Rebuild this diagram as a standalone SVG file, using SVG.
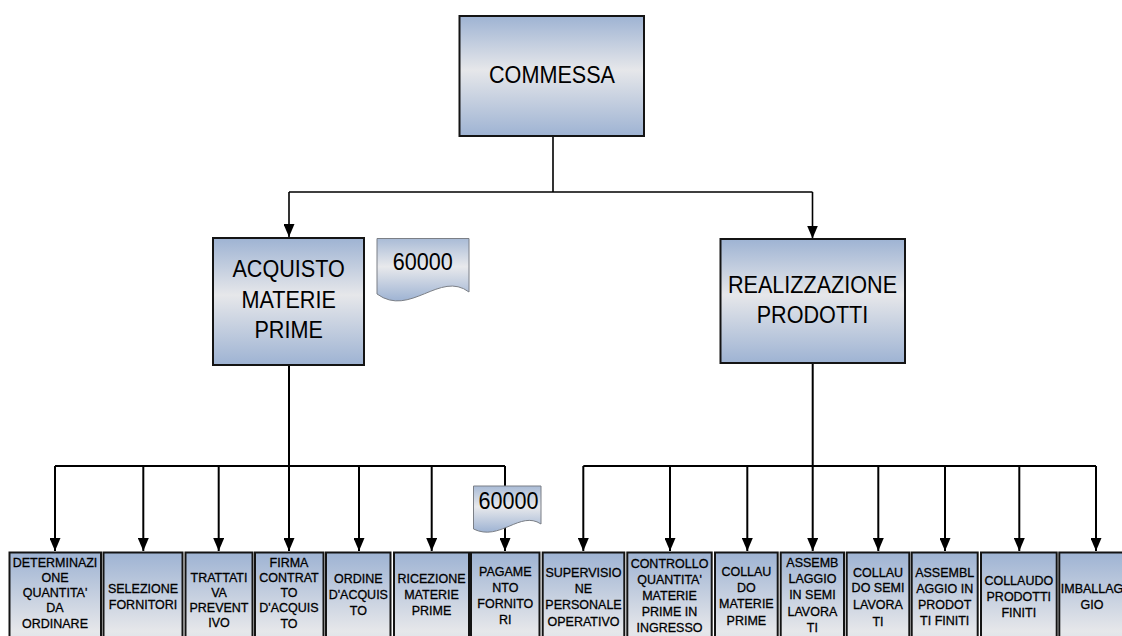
<svg xmlns="http://www.w3.org/2000/svg" width="1122" height="636" viewBox="0 0 1122 636">
  <defs>
    <linearGradient id="boxFill" x1="0" y1="0" x2="0" y2="1">
      <stop offset="0" stop-color="#9eb3d3"/>
      <stop offset="0.45" stop-color="#e6e7ea"/>
      <stop offset="1" stop-color="#9eb3d3"/>
    </linearGradient>
    <linearGradient id="docFill" x1="0" y1="0" x2="0" y2="1">
      <stop offset="0" stop-color="#a9bbd6"/>
      <stop offset="0.45" stop-color="#e8e9ec"/>
      <stop offset="1" stop-color="#9eb3d3"/>
    </linearGradient>
    <marker id="arrow" markerUnits="userSpaceOnUse" markerWidth="13" markerHeight="11" refX="13" refY="5.5" orient="auto">
      <path d="M0,0 L13,5.5 L0,11 Z" fill="#000"/>
    </marker>
    <style>
      .box { fill: url(#boxFill); stroke: #141414; stroke-width: 2; }
      .doc { fill: url(#docFill); stroke: #7b7f86; stroke-width: 1; }
      .wire { fill: none; stroke: #000; stroke-width: 1.6; }
      .wire2 { fill: none; stroke: #000; stroke-width: 2; }
      .arrow { marker-end: url(#arrow); }
      text { font-family: "Liberation Sans", Arial, sans-serif; fill: #000; text-anchor: middle; }
      .big { font-size: 23.5px; }
      .task { font-size: 13.6px; stroke: #000; stroke-width: 0.3; }
    </style>
  </defs>

  <!-- connectors -->
  <g id="connectors">
    <path class="wire" d="M553,136 V192 M289,192 H812.5"/>
    <path class="wire arrow" d="M289,192 V237"/>
    <path class="wire arrow" d="M812.5,192 V238.5"/>

    <!-- purchasing branch -->
    <path class="wire2" d="M289,365 V466 M55,466 H505"/>
    <path class="wire2 arrow" d="M55,466 V551"/>
    <path class="wire2 arrow" d="M143.3,466 V551"/>
    <path class="wire2 arrow" d="M218.7,466 V551"/>
    <path class="wire2 arrow" d="M289,466 V551"/>
    <path class="wire2 arrow" d="M359,466 V551"/>
    <path class="wire2 arrow" d="M431.7,466 V551"/>
    <path class="wire2" d="M505,466 V486"/>
    <path class="wire2 arrow" d="M505,527 V551"/>

    <!-- production branch -->
    <path class="wire2" d="M812.7,363 V466 M583.3,466 H1096"/>
    <path class="wire2 arrow" d="M583.3,466 V551"/>
    <path class="wire2 arrow" d="M670,466 V551"/>
    <path class="wire2 arrow" d="M747.3,466 V551"/>
    <path class="wire2 arrow" d="M812.7,466 V551"/>
    <path class="wire2 arrow" d="M878.3,466 V551"/>
    <path class="wire2 arrow" d="M945,466 V551"/>
    <path class="wire2 arrow" d="M1019.3,466 V551"/>
    <path class="wire2 arrow" d="M1096,466 V551"/>
  </g>

  <!-- top level -->
  <g id="commessa">
    <rect class="box" x="459.5" y="16" width="184.5" height="120"/>
    <text class="big" transform="translate(552 0) scale(0.92 1)" x="0" y="83">COMMESSA</text>
  </g>

  <g id="acquisto-materie-prime">
    <rect class="box" x="213" y="238" width="151" height="127"/>
    <text class="big" transform="translate(288.6 0) scale(0.92 1)"><tspan x="0" y="277">ACQUISTO</tspan><tspan x="0" y="308">MATERIE</tspan><tspan x="0" y="338">PRIME</tspan></text>
  </g>

  <g id="budget-acquisto">
    <path class="doc" d="M377,238.5 H469 V292 C440,270 410,318 377,294 Z"/>
    <text class="big" transform="translate(422.8 0) scale(0.92 1)" x="0" y="270">60000</text>
  </g>

  <g id="realizzazione-prodotti">
    <rect class="box" x="720.5" y="239" width="184.5" height="124"/>
    <text class="big" transform="translate(812.5 0) scale(0.92 1)"><tspan x="0" y="293">REALIZZAZIONE</tspan><tspan x="0" y="323">PRODOTTI</tspan></text>
  </g>

  <g id="budget-pagamento">
    <path class="doc" d="M473.5,486 H541 V524 C520,510 500,542 473.5,529 Z"/>
    <text class="big" transform="translate(508.5 0) scale(0.92 1)" x="0" y="509">60000</text>
  </g>

  <!-- purchasing activities -->
  <g id="determinazione-quantita">
    <rect class="box" x="9.5" y="552.5" width="91.5" height="175"/>
    <text class="task" transform="translate(55 0) scale(0.92 1)"><tspan x="0" y="567.3">DETERMINAZI</tspan><tspan x="0" y="582.3">ONE</tspan><tspan x="0" y="597.3">QUANTITA'</tspan><tspan x="0" y="612.3">DA</tspan><tspan x="0" y="628">ORDINARE</tspan></text>
  </g>
  <g id="selezione-fornitori">
    <rect class="box" x="103.5" y="552.5" width="79" height="175"/>
    <text class="task" transform="translate(143 0) scale(0.92 1)"><tspan x="0" y="593">SELEZIONE</tspan><tspan x="0" y="608.7">FORNITORI</tspan></text>
  </g>
  <g id="trattativa-preventivo">
    <rect class="box" x="185.5" y="552.5" width="67" height="175"/>
    <text class="task" transform="translate(219 0) scale(0.92 1)"><tspan x="0" y="582">TRATTATI</tspan><tspan x="0" y="597">VA</tspan><tspan x="0" y="612.5">PREVENT</tspan><tspan x="0" y="627.5">IVO</tspan></text>
  </g>
  <g id="firma-contratto">
    <rect class="box" x="255" y="552.5" width="68.5" height="175"/>
    <text class="task" transform="translate(289 0) scale(0.92 1)"><tspan x="0" y="567.3">FIRMA</tspan><tspan x="0" y="582">CONTRAT</tspan><tspan x="0" y="597">TO</tspan><tspan x="0" y="612.3">D'ACQUIS</tspan><tspan x="0" y="628">TO</tspan></text>
  </g>
  <g id="ordine-acquisto">
    <rect class="box" x="326" y="552.5" width="64.5" height="175"/>
    <text class="task" transform="translate(358.3 0) scale(0.92 1)"><tspan x="0" y="583.3">ORDINE</tspan><tspan x="0" y="599">D'ACQUIS</tspan><tspan x="0" y="615">TO</tspan></text>
  </g>
  <g id="ricezione-materie">
    <rect class="box" x="394" y="552.5" width="75" height="175"/>
    <text class="task" transform="translate(431.5 0) scale(0.92 1)"><tspan x="0" y="583.3">RICEZIONE</tspan><tspan x="0" y="599">MATERIE</tspan><tspan x="0" y="615">PRIME</tspan></text>
  </g>
  <g id="pagamento-fornitori">
    <rect class="box" x="471" y="552.5" width="68.5" height="175"/>
    <text class="task" transform="translate(505.3 0) scale(0.92 1)"><tspan x="0" y="576.5">PAGAME</tspan><tspan x="0" y="592">NTO</tspan><tspan x="0" y="608.3">FORNITO</tspan><tspan x="0" y="624.3">RI</tspan></text>
  </g>

  <!-- production activities -->
  <g id="supervisione-personale">
    <rect class="box" x="542.7" y="552.5" width="81.6" height="175"/>
    <text class="task" transform="translate(583.5 0) scale(0.92 1)"><tspan x="0" y="576.7">SUPERVISIO</tspan><tspan x="0" y="592.7">NE</tspan><tspan x="0" y="609.3">PERSONALE</tspan><tspan x="0" y="626">OPERATIVO</tspan></text>
  </g>
  <g id="controllo-quantita">
    <rect class="box" x="627.3" y="552.5" width="84.4" height="175"/>
    <text class="task" transform="translate(669.5 0) scale(0.92 1)"><tspan x="0" y="568.3">CONTROLLO</tspan><tspan x="0" y="584">QUANTITA'</tspan><tspan x="0" y="600">MATERIE</tspan><tspan x="0" y="616.5">PRIME IN</tspan><tspan x="0" y="632.5">INGRESSO</tspan></text>
  </g>
  <g id="collaudo-materie">
    <rect class="box" x="715" y="552.5" width="62.7" height="175"/>
    <text class="task" transform="translate(746.4 0) scale(0.92 1)"><tspan x="0" y="576">COLLAU</tspan><tspan x="0" y="592">DO</tspan><tspan x="0" y="608.3">MATERIE</tspan><tspan x="0" y="624.7">PRIME</tspan></text>
  </g>
  <g id="assemblaggio-semilavorati">
    <rect class="box" x="780.7" y="552.5" width="63.3" height="175"/>
    <text class="task" transform="translate(812.4 0) scale(0.92 1)"><tspan x="0" y="567.3">ASSEMB</tspan><tspan x="0" y="583">LAGGIO</tspan><tspan x="0" y="599.5">IN SEMI</tspan><tspan x="0" y="615.7">LAVORA</tspan><tspan x="0" y="632">TI</tspan></text>
  </g>
  <g id="collaudo-semilavorati">
    <rect class="box" x="846.7" y="552.5" width="62.6" height="175"/>
    <text class="task" transform="translate(878 0) scale(0.92 1)"><tspan x="0" y="577">COLLAU</tspan><tspan x="0" y="592.5">DO SEMI</tspan><tspan x="0" y="609.3">LAVORA</tspan><tspan x="0" y="626.5">TI</tspan></text>
  </g>
  <g id="assemblaggio-prodotti">
    <rect class="box" x="911.7" y="552.5" width="66" height="175"/>
    <text class="task" transform="translate(944.7 0) scale(0.92 1)"><tspan x="0" y="576.7">ASSEMBL</tspan><tspan x="0" y="592.7">AGGIO IN</tspan><tspan x="0" y="609">PRODOT</tspan><tspan x="0" y="625">TI FINITI</tspan></text>
  </g>
  <g id="collaudo-prodotti">
    <rect class="box" x="981" y="552.5" width="75.7" height="175"/>
    <text class="task" transform="translate(1018.8 0) scale(0.92 1)"><tspan x="0" y="585">COLLAUDO</tspan><tspan x="0" y="601.5">PRODOTTI</tspan><tspan x="0" y="617.3">FINITI</tspan></text>
  </g>
  <g id="imballaggio">
    <rect class="box" x="1059.3" y="552.5" width="80" height="175"/>
    <text class="task" transform="translate(1092 0) scale(0.92 1)"><tspan x="0" y="593.3">IMBALLAG</tspan><tspan x="0" y="609.3">GIO</tspan></text>
  </g>
</svg>
